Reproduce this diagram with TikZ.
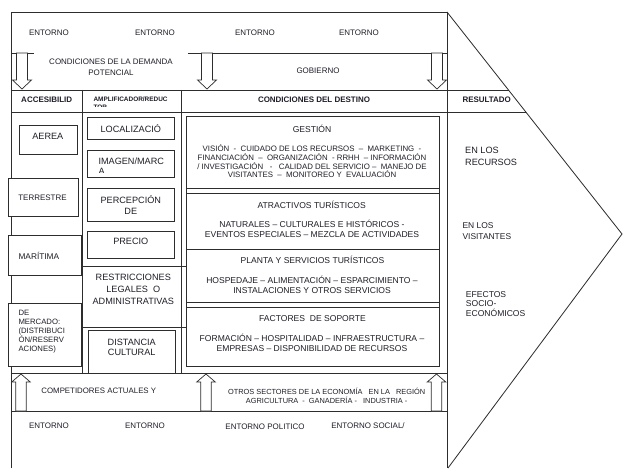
\documentclass[tikz,border=0pt]{standalone}
\usepackage{fontspec}
\setmainfont{Liberation Sans}
\usepackage{tikz}
\usetikzlibrary{calc}
\definecolor{linea}{RGB}{45,45,45}
\definecolor{texto}{RGB}{30,30,40}
\tikzset{
	marco/.style={draw=linea,line width=0.7pt},
	caja/.style={draw=linea,line width=0.7pt,fill=white},
	flecha/.style={draw=linea,line width=0.6pt,fill=white,line join=miter},
	txt/.style={text=texto,inner sep=0pt,align=center,font=\fontsize{6.8}{8}\selectfont},
	enc/.style={text=texto,inner sep=0pt,font=\bfseries\fontsize{6.8}{8}\selectfont},
	txtcaja/.style={text=texto,inner sep=0pt,align=center,font=\fontsize{7.8}{9.6}\selectfont},
	tit/.style={text=texto,inner sep=0pt,align=center,font=\fontsize{7.3}{8.5}\selectfont},
	lista/.style={text=texto,inner sep=0pt,align=center,font=\fontsize{7.3}{8.5}\selectfont},
	res/.style={text=texto,inner sep=0pt,align=left,anchor=west},
}
\begin{document}
\begin{tikzpicture}[x=0.03cm,y=-0.03cm]
			\useasboundingbox (0,0) rectangle (623,468);
			%marco general
			\draw[marco] (11,468) -- (11,12) -- (447,12) -- (447,468);
			\draw[marco] (447,12) -- (622,234) -- (448,468);
			\draw[marco] (11,53) -- (34,53);
			\draw[marco] (188,53) -- (447,53);
			\draw[marco] (11,90) -- (508.5,90);
			\draw[marco] (11,112) -- (525.8,112);
			\draw[marco] (82.5,90) -- (82.5,373);
			\draw[marco] (181,90) -- (181,373);
			\draw[marco] (11,373) -- (447,373);
			\draw[marco] (11,411) -- (447,411);
			\draw[marco] (82.5,266) -- (186,266);
			\draw[marco] (82.5,327) -- (186,327);
			%columna accesibilidad
			\draw[caja] (19,125) rectangle (77.7,154);
			\draw[caja] (8.3,178) rectangle (78.3,216);
			\draw[caja] (8.3,235) rectangle (81,275);
			\draw[caja] (8.3,303) rectangle (81,366);
			%columna amplificador
			\draw[caja] (87.7,117.3) rectangle (174.3,139.3);
			\draw[caja] (87.7,150.7) rectangle (174.3,177.7);
			\draw[caja] (87.7,188.3) rectangle (174.3,221);
			\draw[caja] (87.7,231) rectangle (174.3,258.3);
			\draw[caja] (88.3,330.7) rectangle (175.7,373);
			%columna destino
			\draw[marco] (186,116.7) -- (186,366);
			\draw[marco] (439,116.7) -- (439,366);
			\draw[caja] (186,116.7) rectangle (439,188.3);
			\draw[caja] (186,193.3) rectangle (439,249.3);
			\draw[caja] (186,249.3) rectangle (439,302.7);
			\draw[caja] (186,307.7) rectangle (439,366);
			%flechas
			\foreach \cx in {22,207,437}
				\draw[flecha] (\cx-5.5,53) -- (\cx-5.5,80) -- (\cx-9.5,80) -- (\cx,89) -- (\cx+9.5,80) -- (\cx+5.5,80) -- (\cx+5.5,53) -- cycle;
			\foreach \cx in {21,206,436.5}
				\draw[flecha] (\cx-5.2,411) -- (\cx-5.2,382) -- (\cx-9.3,382) -- (\cx,374) -- (\cx+9.3,382) -- (\cx+5.2,382) -- (\cx+5.2,411) -- cycle;
			%entorno
			\node[txt] (ent1) at (49,32.7) {ENTORNO};
			\node[txt] (ent2) at (155,32.7) {ENTORNO};
			\node[txt] (ent3) at (255,32.7) {ENTORNO};
			\node[txt] (ent4) at (359,32.7) {ENTORNO};
			\node[txt,font=\fontsize{6.8}{9.6}\selectfont] (demanda) at (111,67.6) {CONDICIONES DE LA DEMANDA\\POTENCIAL};
			\node[txt] (gobierno) at (318,70.3) {GOBIERNO};
			%encabezados
			\node[enc] (acces) at (46.7,100) {ACCESIBILID};
			\begin{scope}
				\clip (83,91) rectangle (181,106.6);
				\node[enc,align=left,anchor=west,font=\bfseries\fontsize{5.5}{7.4}\selectfont] (amplif) at (93.3,103.2) {AMPLIFICADOR/REDUC\\TOR};
			\end{scope}
			\node[enc] (destino) at (314,100) {CONDICIONES DEL DESTINO};
			\node[enc] (resultado) at (486.7,99.5) {RESULTADO};
			%textos accesibilidad
			\node[txtcaja] (aerea) at (47.8,136) {AEREA};
			\node[txt] (terrestre) at (42.5,197.7) {TERRESTRE};
			\node[txt,anchor=west,font=\fontsize{7.1}{8}\selectfont] (maritima) at (18.3,256) {MARÍTIMA};
			\node[txt,align=left,anchor=west,font=\fontsize{6.6}{7.8}\selectfont] (mercado) at (18.3,331.7) {DE\\MERCADO:\\(DISTRIBUCI\\ÓN/RESERV\\ACIONES)};
			%textos amplificador
			\node[txtcaja] (localiz) at (130.8,128.3) {LOCALIZACIÓ};
			\begin{scope}
				\clip (88,151) rectangle (174,172.2);
				\node[txtcaja,align=left,anchor=west,font=\fontsize{7.8}{8.5}\selectfont] (imagen) at (98.3,166.2) {IMAGEN/MARC\\A};
			\end{scope}
			\node[txtcaja,font=\fontsize{7.8}{9.7}\selectfont] (percep) at (130.8,205.3) {PERCEPCIÓN\\DE};
			\node[txtcaja] (precio) at (130.8,241.7) {PRECIO};
			\node[txtcaja,font=\fontsize{7.8}{10.6}\selectfont] (restric) at (133.3,289.3) {RESTRICCIONES\\LEGALES\ \ O\\ADMINISTRATIVAS};
			\node[txtcaja,font=\fontsize{7.8}{8.5}\selectfont] (distancia) at (131.7,347.2) {DISTANCIA\\CULTURAL};
			%textos destino
			\node[tit] (gestion) at (312,128.5) {GESTIÓN};
			\node[lista,font=\fontsize{6.7}{7.4}\selectfont] (gestlista) at (312,161.6) {VISIÓN\ \ -\ \ CUIDADO DE LOS RECURSOS\ \ –\ \ MARKETING\ \ -\\FINANCIACIÓN\ \ –\ \ ORGANIZACIÓN\ \ - RRHH\ \ – INFORMACIÓN\\/ INVESTIGACIÓN\ \ \ -\ \ \ CALIDAD DEL SERVICIO –\ \ MANEJO DE\\VISITANTES\ \ –\ \ MONITOREO Y\ \ EVALUACIÓN};
			\node[tit] (atract) at (311.7,204.6) {ATRACTIVOS TURÍSTICOS};
			\node[lista] (atrlista) at (312,228.5) {NATURALES – CULTURALES E HISTÓRICOS -\\EVENTOS ESPECIALES – MEZCLA DE ACTIVIDADES};
			\node[tit] (planta) at (312.5,259.8) {PLANTA Y SERVICIOS TURÍSTICOS};
			\node[lista,font=\fontsize{7.3}{7.9}\selectfont] (plalista) at (312,284.9) {HOSPEDAJE – ALIMENTACIÓN – ESPARCIMIENTO –\\INSTALACIONES Y OTROS SERVICIOS};
			\node[tit] (factores) at (312.5,318.5) {FACTORES\ \ DE SOPORTE};
			\node[lista] (faclista) at (312,342.9) {FORMACIÓN – HOSPITALIDAD – INFRAESTRUCTURA –\\EMPRESAS – DISPONIBILIDAD DE RECURSOS};
			%resultado
			\node[res,font=\fontsize{7.8}{9.9}\selectfont] (recursos) at (465,156.5) {EN LOS\\RECURSOS};
			\node[res,font=\fontsize{7.2}{9.1}\selectfont] (visitantes) at (462.3,231.3) {EN LOS\\VISITANTES};
			\node[res,font=\fontsize{7.3}{8.2}\selectfont] (efectos) at (465.7,303.7) {EFECTOS\\SOCIO-\\ECONÓMICOS};
			%banda inferior
			\node[txt,font=\fontsize{6.7}{8}\selectfont] (competid) at (98.8,391) {COMPETIDORES ACTUALES Y};
			\node[txt,font=\fontsize{6.3}{7.7}\selectfont] (sectores) at (326.7,395.5) {OTROS SECTORES DE LA ECONOMÍA\ \ \ EN LA\ \ \ REGIÓN\\AGRICULTURA\ \ -\ \ GANADERÍA -\ \ \ INDUSTRIA -};
			\node[txt] (ent5) at (49,426) {ENTORNO};
			\node[txt] (ent6) at (145,426) {ENTORNO};
			\node[txt] (entpol) at (265,426.5) {ENTORNO POLITICO};
			\node[txt] (entsoc) at (368,425.5) {ENTORNO SOCIAL/};
\end{tikzpicture}
\end{document}
